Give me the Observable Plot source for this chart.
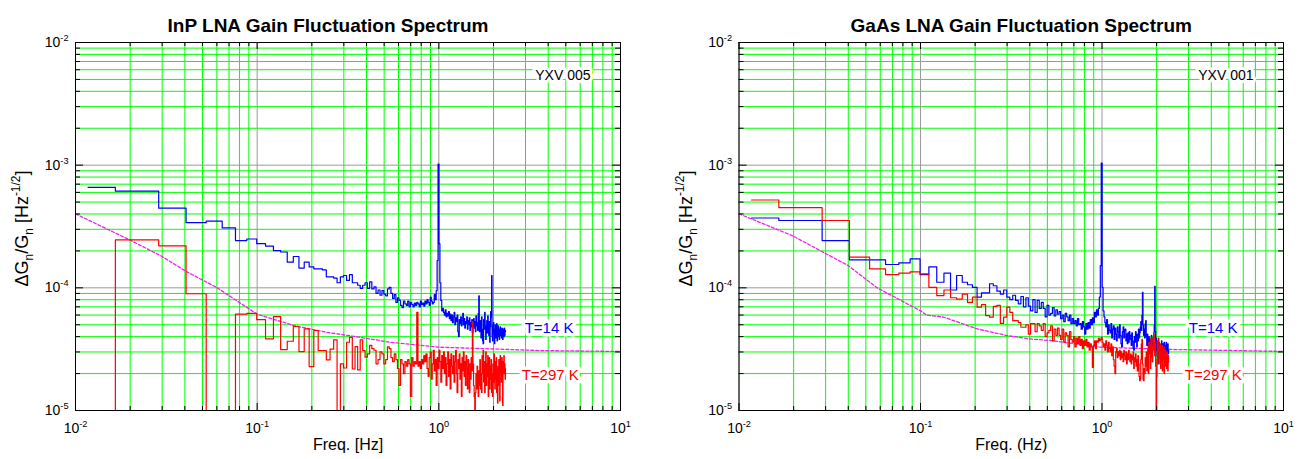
<!DOCTYPE html>
<html><head><meta charset="utf-8">
<script src="https://cdn.jsdelivr.net/npm/d3@7"></script>
<script src="https://cdn.jsdelivr.net/npm/@observablehq/plot@0.6"></script>
<style>
body{margin:0;background:#fff;}
#row{display:flex;width:1307px;height:459px;overflow:hidden;}
#row svg{display:block;flex:none;}
</style></head><body><div id="row"></div>
<script>
// ---- data ----
const binWidth = 0.01172; // Hz, spectral resolution (bin k is at k*binWidth)

// amplitudes in units of 1e-5 Hz^-1/2, bins k = 1..199
const inpBlue = [
66,61.5,44.6,34.0,35.0,30.8,24.3,25.0,22.9,21.9,
20.1,19.6,16.2,18.0,14.5,16.2,14.8,14.3,14.3,14.0,
12.3,12.3,12.0,11.0,12.3,12.6,11.5,12.8,11.0,11.0,
10.5,9.9,10.5,11.0,9.9,11.2,9.8,10.2,9.0,9.6,
8.7,9.5,8.9,8.6,9.8,10.1,9.0,8.2,8.8,7.6,
8.3,7.9,7.2,6.9,7.8,7.4,7.2,7.8,7.0,7.6,
7.3,7.0,7.5,7.2,7.6,7.4,7.0,7.8,7.3,7.5,
7.1,7.8,7.4,8.0,7.6,7.2,8.4,7.8,7.4,7.6,
8.8,8.0,9.5,16.7,102,22.9,11.0,7.9,6.5,6.8,
6.3,6.0,6.6,5.8,6.2,5.9,6.4,5.6,6.1,5.4,
6.0,5.2,5.8,6.3,5.0,5.7,5.3,6.0,4.4,4.0,
5.5,5.1,5.8,4.9,5.4,6.2,5.0,5.6,4.7,5.3,
5.1,5.8,4.6,5.4,5.0,5.7,4.5,5.2,4.8,5.5,
4.3,5.1,5.6,4.7,5.3,4.4,5.9,4.9,5.2,4.5,
6.2,8.6,4.4,5.4,4.8,3.9,5.8,4.6,3.7,3.5,
5.5,4.6,6.3,4.9,3.8,4.8,5.4,4.3,5.9,5.0,
4.1,5.3,3.6,4.8,6.4,5.8,12.6,4.0,3.7,4.9,
5.2,4.3,3.5,4.6,5.0,3.9,4.4,5.1,3.7,4.5,
4.9,4.0,4.6,3.8,4.3,4.8,4.1,4.5,3.9,4.7,
4.2,3.8,4.6,4.3,4.0,4.7,4.1,4.5,4.4];

const inpRed = [
0.5,24.6,22.0,8.95,0.5,0.5,6.1,6.2,5.5,3.84,
5.83,3.14,3.67,4.84,3.02,4.63,2.28,4.49,3.08,3.08,
2.59,3.16,3.77,0.5,2.40,2.22,3.6,3.95,2.18,3.32,
2.14,3.77,3.08,2.72,2.9,3.4,3.2,3.1,2.4,2.6,
3.0,2.9,2.4,2.6,3.3,3.2,2.7,2.5,2.9,2.6,
2.2,1.6,2.6,2.4,2.0,2.5,2.3,2.6,2.4,1.3,
2.7,2.3,2.5,2.4,6.3,2.3,2.5,2.2,2.6,2.4,
2.8,2.5,2.9,2.2,1.9,2.7,3.0,1.8,2.4,3.1,
2.1,2.6,1.6,2.7,2.2,3.1,2.5,1.7,2.8,2.2,
3.0,2.0,2.7,1.6,2.4,3.0,1.9,2.6,1.5,2.9,
2.3,2.0,2.8,1.7,2.5,3.1,2.0,1.4,2.6,2.2,
2.9,1.8,2.4,1.3,2.7,2.1,3.0,1.9,2.5,1.6,
2.8,2.2,1.5,2.6,2.0,1.4,2.4,1.8,2.7,2.1,
5.3,2.4,1.6,1.3,0.5,1.4,2.0,1.5,2.3,1.7,
1.3,2.1,1.6,2.6,1.5,2.0,1.4,2.8,2.0,3.1,
1.7,2.5,1.4,2.2,3.0,1.6,2.4,1.9,2.8,1.3,
2.1,2.7,1.5,2.3,1.8,2.6,1.4,2.0,1.3,2.4,
1.7,2.9,2.1,1.5,2.5,1.8,2.7,1.4,2.2,1.15,
2.3,1.6,2.6,1.9,1.2,2.8,2.0,2.5,1.7,2.7,
2.2,1.1,2.5,2.0,2.8,2.1,2.4,1.8,2.2];

const gaasBlue = [
37.1,35.4,24.3,16.9,16.9,15.5,16.0,17.2,12.8,14.8,
11.1,13.2,9.6,12.6,11.1,10.6,10.1,8.4,9.1,9.1,
10.8,10.4,9.4,8.9,9.6,8.4,8.0,8.7,7.9,7.4,
8.5,7.0,8.3,7.1,6.5,8.0,6.3,7.9,6.8,7.6,
6.8,5.8,7.2,6.0,6.2,6.9,5.9,6.6,6.1,6.4,
5.6,6.0,5.3,6.2,5.8,5.4,6.0,5.1,5.6,5.1,
5.4,4.9,5.6,5.0,5.1,4.6,5.3,4.8,4.2,5.1,
4.6,5.2,4.7,5.5,5.0,5.7,5.2,6.3,5.8,6.6,
6.0,6.8,8.4,15.2,104,10.1,6.5,5.8,5.2,4.8,
5.5,4.2,5.0,4.5,4.3,5.1,3.9,4.6,4.9,3.8,
4.7,4.2,3.7,4.8,4.4,3.9,5.0,4.1,3.5,3.3,
4.4,4.8,3.9,4.5,4.6,3.7,4.2,3.5,4.3,3.6,
4.4,3.8,4.1,3.4,4.3,3.7,3.2,3.1,4.0,3.6,
4.4,3.8,3.3,4.2,3.7,4.6,3.9,4.3,4.8,5.3,
4.5,6.0,9.2,5.0,4.1,4.6,3.9,5.1,5.4,4.0,
3.4,4.2,3.6,3.2,4.0,3.5,3.1,3.8,3.3,4.1,
3.6,3.2,3.9,3.4,4.3,5.0,10.3,4.4,3.5,3.9,
3.1,2.8,3.5,2.4,3.2,3.6,2.9,3.3,2.7,3.4,
3.0,3.7,3.2,2.8,3.5,3.3,2.9,3.6,3.1,3.4,
2.9,3.3,3.6,3.0,3.4,3.1,3.5,2.9,3.1];

const gaasRed = [
52.0,45.0,35.4,17.8,14.3,12.8,13.2,13.5,13.0,10.1,
8.65,9.6,8.3,8.1,8.9,7.6,8.4,6.95,7.3,5.94,
5.77,7.05,7.2,5.14,5.77,6.95,6.3,5.4,5.4,5.2,
4.77,4.77,5.0,4.2,5.1,5.1,4.4,5.1,4.9,4.5,
5.1,4.0,4.3,4.5,4.9,3.7,4.6,4.1,4.7,4.1,
3.8,4.6,3.6,4.3,4.1,3.3,4.4,3.8,3.6,4.0,
3.3,3.9,3.5,4.0,3.4,3.8,3.2,3.7,3.4,3.8,
3.3,3.6,3.1,3.5,3.3,2.25,3.4,3.7,3.2,3.7,
3.6,3.9,3.7,3.8,3.95,3.6,3.3,3.5,3.1,3.7,
3.4,3.0,3.6,3.2,3.0,3.5,2.8,3.3,2.6,2.3,
2.0,3.0,3.2,2.7,3.0,2.8,3.1,2.6,3.0,2.7,
2.9,2.5,3.1,2.8,2.6,3.0,2.4,2.9,2.6,3.1,
2.7,2.5,2.9,2.4,2.8,2.6,3.0,2.2,2.7,2.5,
2.9,2.3,2.6,2.1,2.8,2.4,1.9,1.75,1.8,2.6,
3.5,3.8,2.4,1.8,1.75,2.2,2.0,2.7,2.3,3.0,
2.1,2.6,3.2,2.0,3.6,2.9,3.4,2.2,3.9,2.7,
3.4,2.5,3.9,3.1,4.2,3.5,2.8,3.6,2.3,0.5,
1.9,2.6,3.7,3.1,3.9,2.4,3.3,2.7,3.5,2.2,
3.0,2.5,3.4,2.1,2.9,2.6,3.3,2.0,2.8,2.4,
3.1,2.3,2.7,2.2,3.0,2.5,2.1,2.8,2.5];

// dashed model curve, value units 1e-5
const inpModelF = [0.01,0.0193,0.0294,0.0403,0.0603,0.0998,0.159,0.242,0.369,0.54,1.02,1.93,3.6,10];
const inpModelV = [40.1,25.1,18.3,13.7,10.0,6.1,4.93,4.34,3.95,3.6,3.28,3.18,3.08,3.03];
const gaasModelF = [0.01,0.0196,0.0399,0.0577,0.0877,0.1,0.108,0.134,0.205,0.3,0.394,0.52,0.98,2.3,10];
const gaasModelV = [40.1,26.7,15.2,10.0,7.2,6.5,6.0,5.77,4.63,4.08,3.84,3.72,3.28,3.15,3.03];

const seriesLabels = ["T=14 K", "T=297 K"];
const titles = ["InP LNA Gain Fluctuation Spectrum", "GaAs LNA Gain Fluctuation Spectrum"];
const xLabels = ["Freq. [Hz]", "Freq. (Hz)"];
const yLabel = "ΔG_{n}/G_{n} [Hz^{-1/2}]";
const tags = ["YXV 005", "YXV 001"];

const xTicks = [0.01, 0.1, 1, 10];
const xTickLabels = ["10^{-2}", "10^{-1}", "10^{0}", "10^{1}"];
const yTicks = [1e-5, 1e-4, 1e-3, 1e-2];
const yTickLabels = ["10^{-5}", "10^{-4}", "10^{-3}", "10^{-2}"];
const xMinor = [0.02,0.03,0.04,0.05,0.06,0.07,0.08,0.09,0.2,0.3,0.4,0.5,0.6,0.7,0.8,0.9,2,3,4,5,6,7,8,9];
const yMinor = [2e-5,3e-5,4e-5,5e-5,6e-5,7e-5,8e-5,9e-5,2e-4,3e-4,4e-4,5e-4,6e-4,7e-4,8e-4,9e-4,2e-3,3e-3,4e-3,5e-3,6e-3,7e-3,8e-3,9e-3];

// ---- drawing ----
const FONT = "'Liberation Sans', Arial, Helvetica, sans-serif";
function rows(arr) { return arr.map((v, i) => ({f: (i + 1) * binWidth, v: v * 1e-5})); }

function panel(o) {
  const H = 459, mt = 42, mb = 49;
  const fh = H - mt - mb, fw = o.width - o.marginLeft - o.marginRight;
  const b = rows(o.blue), r = rows(o.red);
  const model = o.modelF.map((f, i) => ({f, v: o.modelV[i] * 1e-5}));
  const fmtX = d => xTickLabels[xTicks.indexOf(d)];
  const fmtY = d => yTickLabels[yTicks.indexOf(d)];
  return Plot.plot({
    width: o.width, height: H, marginTop: mt, marginBottom: mb,
    marginLeft: o.marginLeft, marginRight: o.marginRight,
    style: {fontFamily: FONT, background: "white", color: "black", overflow: "visible"},
    x: {type: "log", domain: [0.01, 10]},
    y: {type: "log", domain: [1e-5, 1e-2]},
    marks: [
      Plot.ruleX(xMinor, {stroke: "#00ff00", strokeWidth: 1}),
      Plot.ruleY(yMinor, {stroke: "#00ff00", strokeWidth: 1}),
      Plot.ruleX(xTicks, {stroke: "#9a9a9a", strokeWidth: 1}),
      Plot.ruleY(yTicks, {stroke: "#9a9a9a", strokeWidth: 1}),
      Plot.line(model, {x: "f", y: "v", stroke: "#ee22ee", strokeWidth: 1.3, strokeDasharray: "3,2", clip: true}),
      Plot.line(b, {x: "f", y: "v", curve: "step", stroke: "#0000ff", strokeWidth: 1.2, clip: true}),
      Plot.line(r, {x: "f", y: "v", curve: "step", stroke: "#ff0000", strokeWidth: 1.2, clip: true}),
      // inside tick marks on all four sides
      Plot.ruleX(xTicks, {insetTop: fh - 7, stroke: "black"}),
      Plot.ruleX(xMinor, {insetTop: fh - 4, stroke: "black"}),
      Plot.ruleX(xTicks, {insetBottom: fh - 7, stroke: "black"}),
      Plot.ruleX(xMinor, {insetBottom: fh - 4, stroke: "black"}),
      Plot.ruleY(yTicks, {insetRight: fw - 8, stroke: "black"}),
      Plot.ruleY(yMinor, {insetRight: fw - 5, stroke: "black"}),
      Plot.ruleY(yTicks, {insetLeft: fw - 8, stroke: "black"}),
      Plot.ruleY(yMinor, {insetLeft: fw - 5, stroke: "black"}),
      Plot.frame({stroke: "black", strokeWidth: 1}),
      Plot.axisX(xTicks, {anchor: "bottom", tickSize: 0, tickPadding: 13, tickFormat: fmtX, fontSize: 14, label: null}),
      Plot.axisY(yTicks, {anchor: "left", tickSize: 0, tickPadding: 7, tickFormat: fmtY, fontSize: 14, label: null}),
      Plot.text([o.title], {text: d => d, frameAnchor: "top", dy: -24, dx: o.titleDx, fontSize: 19, fontWeight: "bold"}),
      Plot.text([o.xLabel], {text: d => d, frameAnchor: "bottom", dy: 39, fontSize: 16}),
      Plot.text([yLabel], {text: d => d, frameAnchor: "left", textAnchor: "middle", rotate: -90, dx: -53, dy: 2, fontSize: 18}),
      Plot.text([o.tag], {text: d => d, frameAnchor: "top-right", textAnchor: "end", dx: -30, dy: 28, fontSize: 14,
        fill: "black", stroke: "white", strokeWidth: 6, paintOrder: "stroke"}),
      Plot.text(b, Plot.selectLast({x: "f", y: "v", text: () => seriesLabels[0], textAnchor: "start",
        dx: o.blueDx, dy: o.blueDy, fontSize: 15, fill: "#0000ff", stroke: "white", strokeWidth: 7, paintOrder: "stroke"})),
      Plot.text(r, Plot.selectLast({x: "f", y: "v", text: () => seriesLabels[1], textAnchor: "start",
        dx: o.redDx, dy: o.redDy, fontSize: 15, fill: "#ff0000", stroke: "white", strokeWidth: 7, paintOrder: "stroke"}))
    ]
  });
}

// turn _{..} / ^{..} markup into sub/superscript tspans (baseline-shift keeps one text chunk)
function richify(svg) {
  const NS = "http://www.w3.org/2000/svg";
  svg.querySelectorAll("text").forEach(el => {
    const s = el.textContent;
    if (!/[_^]\{/.test(s)) return;
    const base = parseFloat(getComputedStyle(el).fontSize) || 14;
    const parts = s.split(/(_\{[^}]*\}|\^\{[^}]*\})/).filter(p => p !== "");
    el.textContent = "";
    for (const p of parts) {
      let kind = null, txt = p;
      if (p.startsWith("_{")) { kind = "sub"; txt = p.slice(2, -1); }
      else if (p.startsWith("^{")) { kind = "sup"; txt = p.slice(2, -1); }
      const t = document.createElementNS(NS, "tspan");
      if (kind) {
        t.setAttribute("font-size", (0.66 * base).toFixed(1));
        t.setAttribute("baseline-shift", kind === "sup" ? (0.45 * base).toFixed(1) : (-0.3 * base).toFixed(1));
      }
      t.textContent = txt;
      el.appendChild(t);
    }
  });
}

const row = document.getElementById("row");
const left = panel({width: 660, marginLeft: 75, marginRight: 40, title: titles[0], titleDx: -20, xLabel: xLabels[0],
  tag: tags[0], blue: inpBlue, red: inpRed, modelF: inpModelF, modelV: inpModelV,
  blueDx: 19, blueDy: -3, redDx: 16, redDy: 7});
const right = panel({width: 647, marginLeft: 78.5, marginRight: 24, title: titles[1], titleDx: 10, xLabel: xLabels[1],
  tag: tags[1], blue: gaasBlue, red: gaasRed, modelF: gaasModelF, modelV: gaasModelV,
  blueDx: 20, blueDy: -22, redDx: 16, redDy: 14});
row.appendChild(left);
row.appendChild(right);
richify(left);
richify(right);
</script>
</body></html>
